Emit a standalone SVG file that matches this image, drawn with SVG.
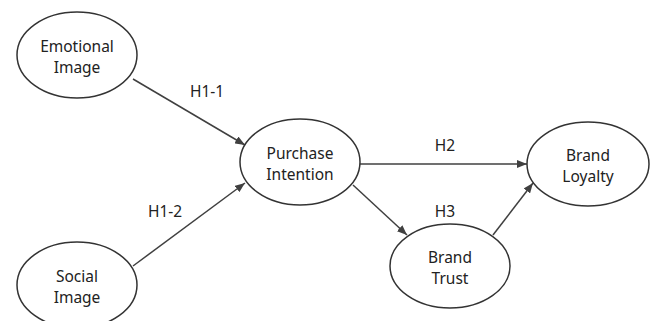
<svg xmlns="http://www.w3.org/2000/svg" width="651" height="321" viewBox="0 0 651 321">
<defs>
<marker id="ah" markerUnits="userSpaceOnUse" markerWidth="10" markerHeight="8" refX="10" refY="4" orient="auto">
<path d="M0,0 L10,4 L0,8 z" fill="#404040"/>
</marker>
<style>
.n ellipse{fill:#fff;stroke:#333;stroke-width:1.5}
.n text,.lbl{font-family:"Noto Sans","Liberation Sans",sans-serif;font-size:15.5px;fill:#222;text-anchor:middle}
.c line{stroke:#404040;stroke-width:1.5;marker-end:url(#ah)}
</style>
</defs>
<rect width="651" height="321" fill="#fff"/>
<g id="connectors" class="c">
<line x1="133" y1="79" x2="245" y2="145"/>
<line x1="133" y1="266" x2="245" y2="183"/>
<line x1="360" y1="164" x2="527" y2="164"/>
<line x1="353" y1="185" x2="407" y2="235"/>
<line x1="493" y1="235" x2="533" y2="183"/>
</g>
<g id="labels">
<text class="lbl" x="207" y="97">H1-1</text>
<text class="lbl" x="165" y="217">H1-2</text>
<text class="lbl" x="445" y="151">H2</text>
<text class="lbl" x="445" y="217">H3</text>
</g>
<g id="emotional-image" class="n">
<ellipse cx="77" cy="55" rx="60" ry="43"/>
<text x="77" y="51.5">Emotional</text>
<text x="77" y="72.5">Image</text>
</g>
<g id="social-image" class="n">
<ellipse cx="77" cy="285" rx="60" ry="43"/>
<text x="77" y="281.5">Social</text>
<text x="77" y="302.5">Image</text>
</g>
<g id="purchase-intention" class="n">
<ellipse cx="300" cy="162" rx="60" ry="43"/>
<text x="300" y="158.5">Purchase</text>
<text x="300" y="179.5">Intention</text>
</g>
<g id="brand-loyalty" class="n">
<ellipse cx="588" cy="164" rx="61" ry="42"/>
<text x="588" y="160.5">Brand</text>
<text x="588" y="181.5">Loyalty</text>
</g>
<g id="brand-trust" class="n">
<ellipse cx="450" cy="266" rx="60" ry="42"/>
<text x="450" y="262.5">Brand</text>
<text x="450" y="283.5">Trust</text>
</g>
</svg>
